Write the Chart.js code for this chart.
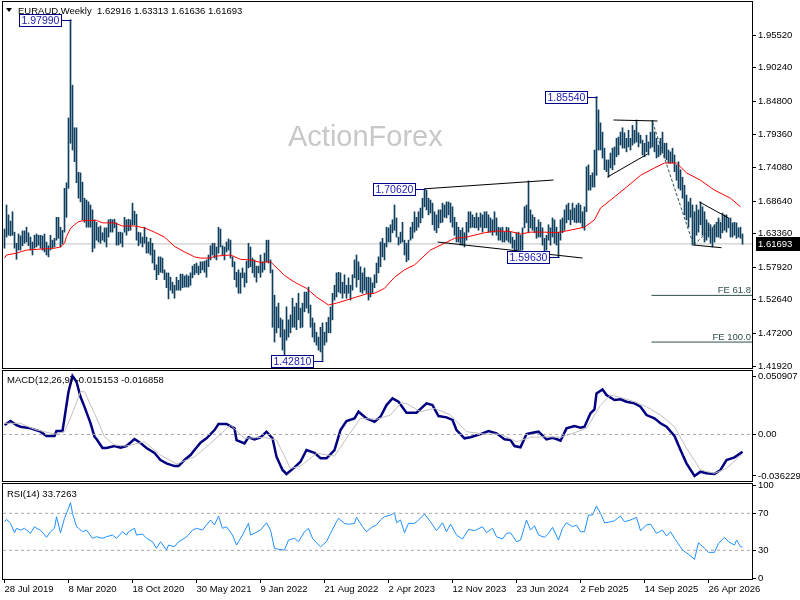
<!DOCTYPE html>
<html>
<head>
<meta charset="utf-8">
<title>EURAUD Weekly</title>
<script src="https://cdn.jsdelivr.net/npm/chart.js@4.4.1/dist/chart.umd.min.js"></script>
<style>
  html, body { margin: 0; padding: 0; background: #fff; }
  #wrap { position: relative; width: 800px; height: 600px; overflow: hidden; }
  canvas { position: absolute; left: 0; }
  #priceChart { top: 0; }
  #macdChart { top: 370px; }
  #rsiChart { top: 482px; }
</style>
</head>
<body>
<div id="wrap">
  <canvas id="priceChart" width="800" height="370"></canvas>
  <canvas id="macdChart" width="800" height="112"></canvas>
  <canvas id="rsiChart" width="800" height="118"></canvas>
</div>
<script>
/* ---------------- data ---------------- */
const dateTicks = [0, 32, 64, 96, 128, 160, 192, 224, 256, 288, 320, 352];
const dateLabels = ['28 Jul 2019', '8 Mar 2020', '18 Oct 2020', '30 May 2021', '9 Jan 2022', '21 Aug 2022',
                    '2 Apr 2023', '12 Nov 2023', '23 Jun 2024', '2 Feb 2025', '14 Sep 2025', '26 Apr 2026'];

const priceTicks = [1.41920, 1.47200, 1.52640, 1.57920, 1.63360, 1.68640, 1.74080, 1.79360, 1.84800, 1.90240, 1.95520];
const macdTicks = [-0.036229, 0, 0.050907];
const rsiTicks = [0, 30, 70, 100];
const rsiLevels = [70, 30];

// last bar: open, high, low, close
const lastBar = [1.62916, 1.63313, 1.61636, 1.61693];

const barHigh = [
  1.641,1.680,1.664,1.654,1.669,1.636,1.618,1.633,1.630,1.638,
  1.638,1.644,1.635,1.628,1.620,1.631,1.633,1.631,1.631,1.630,
  1.633,1.620,1.614,1.631,1.623,1.626,1.660,1.660,1.644,1.639,
  1.707,1.716,1.821,1.9799,1.874,1.805,1.805,1.733,1.732,1.717,
  1.691,1.688,1.685,1.680,1.672,1.656,1.652,1.644,1.646,1.635,
  1.643,1.643,1.656,1.657,1.656,1.657,1.651,1.636,1.636,1.635,
  1.660,1.656,1.657,1.656,1.683,1.670,1.665,1.636,1.635,1.628,
  1.644,1.628,1.620,1.626,1.618,1.607,1.583,1.596,1.596,1.594,
  1.575,1.570,1.570,1.563,1.555,1.550,1.563,1.558,1.568,1.568,
  1.565,1.567,1.565,1.570,1.581,1.584,1.586,1.581,1.588,1.588,
  1.589,1.591,1.599,1.614,1.618,1.618,1.612,1.644,1.641,1.614,
  1.612,1.620,1.625,1.623,1.596,1.588,1.571,1.575,1.570,1.578,
  1.570,1.589,1.618,1.612,1.594,1.591,1.581,1.581,1.599,1.588,
  1.602,1.623,1.623,1.591,1.575,1.534,1.515,1.521,1.497,1.494,
  1.478,1.515,1.494,1.502,1.529,1.515,1.521,1.537,1.513,1.521,
  1.539,1.539,1.547,1.518,1.497,1.489,1.474,1.466,1.482,1.489,
  1.474,1.490,1.498,1.515,1.537,1.550,1.570,1.571,1.570,1.555,
  1.567,1.550,1.562,1.550,1.567,1.591,1.599,1.588,1.580,1.570,
  1.578,1.563,1.563,1.562,1.554,1.567,1.586,1.596,1.620,1.626,
  1.618,1.644,1.643,1.648,1.656,1.680,1.659,1.628,1.636,1.652,
  1.623,1.618,1.623,1.644,1.652,1.669,1.660,1.669,1.675,1.691,
  1.7062,1.704,1.691,1.688,1.683,1.669,1.664,1.672,1.672,1.683,
  1.680,1.685,1.685,1.683,1.677,1.660,1.652,1.644,1.639,1.643,
  1.635,1.652,1.669,1.669,1.664,1.660,1.667,1.660,1.667,1.664,
  1.669,1.669,1.664,1.659,1.656,1.669,1.659,1.644,1.643,1.644,
  1.636,1.644,1.643,1.636,1.628,1.623,1.635,1.636,1.631,1.643,
  1.677,1.680,1.719,1.672,1.664,1.660,1.644,1.656,1.652,1.643,
  1.626,1.631,1.648,1.643,1.659,1.656,1.644,1.636,1.656,1.659,
  1.672,1.680,1.683,1.672,1.683,1.675,1.680,1.683,1.680,1.669,
  1.677,1.742,1.745,1.728,1.732,1.769,1.8554,1.834,1.813,1.798,
  1.772,1.753,1.753,1.764,1.772,1.774,1.788,1.790,1.798,1.805,
  1.797,1.788,1.801,1.788,1.809,1.801,1.8176,1.797,1.793,1.785,
  1.780,1.793,1.782,1.798,1.817,1.798,1.788,1.777,1.788,1.798,
  1.780,1.780,1.769,1.766,1.772,1.761,1.745,1.750,1.737,1.725,
  1.712,1.696,1.685,1.691,1.680,1.669,1.680,1.672,1.685,1.677,
  1.669,1.656,1.651,1.648,1.643,1.648,1.652,1.659,1.652,1.667,
  1.664,1.664,1.659,1.659,1.651,1.652,1.651,1.643,1.644,1.63313
];

const barLow = [
  1.610,1.628,1.631,1.630,1.631,1.610,1.592,1.607,1.607,1.614,
  1.618,1.620,1.614,1.607,1.599,1.610,1.612,1.615,1.610,1.607,
  1.604,1.599,1.596,1.607,1.610,1.612,1.623,1.626,1.612,1.617,
  1.636,1.660,1.707,1.780,1.769,1.750,1.716,1.691,1.685,1.656,
  1.652,1.644,1.644,1.644,1.604,1.610,1.623,1.620,1.618,1.623,
  1.620,1.612,1.628,1.636,1.636,1.643,1.615,1.615,1.618,1.612,
  1.636,1.631,1.638,1.639,1.648,1.648,1.623,1.614,1.618,1.612,
  1.618,1.602,1.602,1.599,1.586,1.575,1.559,1.567,1.571,1.570,
  1.559,1.546,1.528,1.542,1.537,1.529,1.542,1.542,1.542,1.546,
  1.547,1.547,1.547,1.550,1.562,1.567,1.570,1.567,1.570,1.575,
  1.571,1.563,1.580,1.591,1.599,1.594,1.591,1.602,1.612,1.599,
  1.591,1.604,1.607,1.594,1.580,1.559,1.547,1.537,1.537,1.562,
  1.547,1.554,1.578,1.580,1.570,1.563,1.555,1.570,1.563,1.571,
  1.575,1.588,1.586,1.570,1.482,1.458,1.473,1.481,1.466,1.445,
  1.436,1.461,1.466,1.473,1.482,1.482,1.478,1.494,1.481,1.482,
  1.507,1.513,1.505,1.482,1.466,1.458,1.453,1.445,1.442,1.4281,
  1.453,1.458,1.473,1.473,1.494,1.526,1.531,1.539,1.537,1.529,
  1.537,1.529,1.537,1.526,1.542,1.562,1.547,1.559,1.539,1.537,
  1.542,1.537,1.526,1.531,1.537,1.546,1.554,1.570,1.580,1.596,
  1.591,1.612,1.620,1.620,1.635,1.639,1.628,1.615,1.618,1.620,
  1.599,1.588,1.591,1.623,1.626,1.636,1.639,1.644,1.651,1.659,
  1.677,1.672,1.664,1.667,1.648,1.639,1.635,1.643,1.651,1.652,
  1.660,1.659,1.664,1.652,1.644,1.631,1.620,1.620,1.615,1.615,
  1.612,1.623,1.636,1.643,1.644,1.643,1.643,1.639,1.644,1.636,
  1.643,1.643,1.636,1.636,1.631,1.636,1.631,1.623,1.623,1.620,
  1.620,1.623,1.620,1.618,1.610,1.607,1.604,1.607,1.607,1.607,
  1.643,1.651,1.635,1.643,1.639,1.635,1.626,1.628,1.628,1.615,
  1.601,1.607,1.623,1.615,1.628,1.618,1.615,1.5963,1.623,1.635,
  1.639,1.651,1.656,1.648,1.656,1.652,1.651,1.652,1.651,1.643,
  1.639,1.669,1.704,1.704,1.709,1.709,1.728,1.769,1.769,1.756,
  1.737,1.734,1.725,1.740,1.737,1.745,1.758,1.761,1.777,1.772,
  1.772,1.766,1.774,1.769,1.777,1.780,1.782,1.774,1.780,1.761,
  1.758,1.766,1.761,1.772,1.774,1.766,1.756,1.758,1.761,1.764,
  1.756,1.753,1.748,1.748,1.748,1.734,1.720,1.707,1.704,1.691,
  1.664,1.656,1.644,1.660,1.615,1.615,1.631,1.636,1.648,1.631,
  1.620,1.623,1.628,1.618,1.612,1.620,1.628,1.628,1.626,1.635,
  1.639,1.636,1.643,1.628,1.628,1.631,1.626,1.628,1.626,1.61636
];

// red moving average
const maIdx = [0,1,6,11,20,25,28,30,31,33,35,37,40,46,49,55,59,65,70,75,80,85,90,95,98,103,105,113,118,123,
               128,133,140,145,151,156,162,166,173,181,185,190,195,200,205,213,220,225,231,240,246,253,258,263,270,276,281,290,295,298,
               305,311,318,325,330,336,341,348,355,363,368];
const maVal = [1.594,1.599,1.602,1.607,1.609,1.610,1.612,1.618,1.629,1.642,1.648,1.653,1.655,1.655,1.651,1.651,1.646,1.646,1.643,1.636,
               1.628,1.613,1.604,1.596,1.594,1.594,1.597,1.599,1.592,1.591,1.587,1.588,1.566,1.555,1.545,1.531,1.518,1.521,1.528,1.536,
               1.537,1.545,1.563,1.575,1.583,1.607,1.618,1.626,1.628,1.635,1.638,1.637,1.633,1.636,1.636,1.635,1.638,1.644,1.656,1.675,
               1.693,1.709,1.728,1.740,1.748,1.748,1.732,1.720,1.704,1.691,1.677];

// high / low tags
const tagIdx = [33, 159, 210, 277, 296];
const tagVal = [1.97990, 1.42810, 1.70620, 1.59630, 1.85540];

// hand drawn trend lines [bar, price]
const trendLines = [
  [[210, 1.7062], [274.5, 1.7204]],
  [[216.5, 1.6200], [289, 1.5941]],
  [[301.5, 1.7253], [321.5, 1.7625]],
  [[304.5, 1.8176], [326.5, 1.8160]],
  [[347.5, 1.6848], [362, 1.6589]],
  [[344.5, 1.6152], [358.5, 1.6108]]
];

// fibonacci expansion
const feIdx = [324, 344.5, 358];
const feVal = [1.8143, 1.6152, 1.6556];
const feStart = 323.5;
const feLevels = [1.5336, 1.4580];
const feNames = ['FE 61.8', 'FE 100.0'];

// MACD(12,26,9)
const macdIdx = [0,3,6,8,13,18,21,25,26,29,30,32,34,36,38,40,43,45,46,49,51,55,58,61,65,68,71,75,78,81,
                 85,87,90,93,95,98,101,105,107,111,115,116,120,122,125,128,131,134,136,139,141,145,148,151,155,158,161,165,168,171,
                 175,177,181,185,188,191,194,197,201,206,211,214,217,221,224,226,230,233,238,242,246,250,253,255,258,261,264,267,271,274,
                 276,278,281,285,288,290,293,295,296,299,301,305,308,311,315,318,321,325,328,331,335,338,341,345,348,351,355,358,361,365,369];
const macdVal = [0.0082,0.0117,0.0082,0.0067,0.0053,0.0024,-0.0014,-0.0014,0.0030,0.0030,
                 0.0143,0.0372,0.0509,0.0459,0.0328,0.0240,0.0099,-0.0020,-0.0040,-0.0118,
                 -0.0118,-0.0101,-0.0116,-0.0101,-0.0040,-0.0075,-0.0118,-0.0162,-0.0223,-0.0252,
                 -0.0276,-0.0276,-0.0223,-0.0180,-0.0136,-0.0072,-0.0034,0.0038,0.0091,0.0091,
                 0.0053,-0.0049,-0.0078,-0.0025,-0.0043,-0.0025,0.0024,-0.0034,-0.0194,-0.0310,
                 -0.0345,-0.0287,-0.0238,-0.0136,-0.0160,-0.0208,-0.0208,-0.0136,0.0038,0.0117,
                 0.0140,0.0198,0.0140,0.0111,0.0154,0.0256,0.0315,0.0285,0.0189,0.0189,
                 0.0271,0.0256,0.0160,0.0149,0.0126,0.0038,-0.0034,-0.0025,0.0003,0.0030,
                 0.0010,-0.0043,-0.0049,-0.0101,-0.0112,0.0003,0.0015,0.0024,-0.0043,-0.0029,
                 -0.0040,-0.0055,0.0053,0.0073,0.0058,0.0067,0.0184,0.0219,0.0358,0.0393,
                 0.0343,0.0300,0.0306,0.0285,0.0271,0.0241,0.0169,0.0140,0.0097,0.0067,
                 -0.0014,-0.0136,-0.0252,-0.0362,-0.0325,-0.0339,-0.0345,-0.0310,-0.0223,-0.0200,-0.015153];
const sigIdx = [0,8,15,25,30,34,38,40,45,50,55,61,70,78,86,95,103,113,120,130,
                136,143,148,156,165,171,178,186,193,198,201,208,215,223,231,240,248,256,263,271,
                278,285,291,298,303,308,315,321,328,335,341,348,355,361,369];
const sigVal = [0.0097,0.0097,0.0044,0.0003,0.0024,0.0187,0.0372,0.0372,0.0184,-0.0020,
                -0.0092,-0.0101,-0.0064,-0.0180,-0.0258,-0.0194,-0.0078,0.0082,-0.0034,-0.0025,
                -0.0049,-0.0296,-0.0276,-0.0165,-0.0188,-0.0034,0.0140,0.0132,0.0169,0.0271,
                0.0271,0.0198,0.0228,0.0169,0.0024,0.0003,0.0003,-0.0064,-0.0025,-0.0020,
                -0.0025,0.0015,0.0053,0.0256,0.0343,0.0323,0.0285,0.0241,0.0169,0.0067,
                -0.0121,-0.0310,-0.0339,-0.0296,-0.016858];

// RSI(14)
const rsiIdx = [0,1,3,5,6,8,10,11,13,15,16,18,21,23,25,26,28,30,32,33,
                34,36,37,39,41,44,46,49,51,54,56,59,61,62,65,66,69,71,74,76,
                78,81,82,85,87,90,92,94,96,99,101,103,105,107,109,111,114,116,119,122,
                123,125,128,131,133,135,137,140,142,145,147,150,152,154,156,158,161,163,166,167,
                170,172,175,176,179,181,184,186,188,190,193,195,196,198,200,202,205,207,210,213,
                216,219,221,223,226,229,232,235,239,241,244,246,249,251,253,256,258,261,263,265,
                267,270,272,274,277,279,281,284,286,288,290,292,294,296,298,300,302,305,308,310,
                313,316,318,321,323,326,329,331,333,335,339,342,345,347,350,352,355,357,360,362,
                365,366,368,369];
const rsiVal = [60.9,63.5,59.2,49.0,53.8,51.9,53.8,51.9,48.4,55.5,53.8,51.9,44.0,50.1,53.8,66.3,49.0,64.6,75.4,81.5,
                70.0,55.5,53.8,50.1,51.9,43.0,44.7,43.0,44.7,46.5,43.0,50.1,46.5,50.1,53.8,46.5,47.6,43.0,39.3,32.2,
                39.3,30.3,35.7,33.9,39.3,43.0,46.5,51.9,53.8,51.9,57.4,62.8,57.4,67.1,53.8,55.5,46.5,35.7,46.5,59.2,
                46.5,48.4,51.9,59.8,51.9,32.2,31.1,30.3,41.1,43.0,39.3,50.1,53.8,43.0,38.2,33.9,39.3,48.4,60.9,64.6,
                59.2,58.1,59.2,65.7,55.5,50.1,55.5,57.4,62.8,66.3,68.2,70.6,59.8,62.8,49.0,59.2,59.2,62.8,69.2,60.9,
                51.2,59.8,50.1,58.4,46.5,42.2,52.6,51.2,55.5,49.0,53.8,44.7,42.2,48.4,49.0,39.3,41.1,62.8,51.9,56.6,
                46.5,44.0,48.4,54.9,41.1,53.8,59.8,55.5,57.4,50.1,50.1,68.2,68.2,77.9,70.0,59.8,60.3,62.0,67.1,60.9,
                62.8,65.7,51.2,57.4,58.4,48.4,51.9,45.5,50.1,43.0,30.3,25.7,20.3,38.2,32.2,27.8,27.8,37.5,44.0,39.3,
                35.7,41.1,33.9,33.7263];

/* ---------------- shared look ---------------- */
const X_MIN = -0.75, X_MAX = 373.75;
const FONT = '"Liberation Sans", Arial, sans-serif';
const AXIS_W = 48;

Chart.defaults.font.family = FONT;
Chart.defaults.font.size = 9.5;
Chart.defaults.color = '#000';
Chart.defaults.animation = false;
Chart.defaults.plugins.legend.display = false;
Chart.defaults.plugins.tooltip.enabled = false;

function pts(xs, ys) {
    return xs.map((x, k) => ({ x: x, y: ys[k] }));
}

function flat(v, x0, x1) {
    return [{ x: x0, y: v }, { x: x1, y: v }];
}

function lineSet(data, color, width, extra) {
    return Object.assign({
        type: 'line', data: data, borderColor: color, borderWidth: width,
        pointRadius: 0, tension: 0, fill: false
    }, extra || {});
}

// stop Chart.js from shrinking the pane to make room for edge labels
function noEdgePad(s) {
    s.paddingTop = 0; s.paddingBottom = 0; s.paddingLeft = 0; s.paddingRight = 0;
}

function xAxis(show) {
    return {
        type: 'linear', min: X_MIN, max: X_MAX, offset: false, bounds: 'data', display: show,
        grid: { drawOnChartArea: false, drawTicks: true, tickLength: 4, color: '#000' },
        border: { display: false },
        afterBuildTicks: s => { s.ticks = dateTicks.map(v => ({ value: v })); },
        ticks: {
            autoSkip: false, maxRotation: 0, minRotation: 0, align: 'start', padding: 1,
            callback: (v, i) => dateLabels[i]
        },
        afterFit: s => { s.height = show ? 21 : 0; noEdgePad(s); }
    };
}

function yAxis(min, max, tickVals, fmt) {
    return {
        type: 'linear', position: 'right', min: min, max: max, bounds: 'data',
        grid: { drawOnChartArea: false, drawTicks: true, tickLength: 4, color: '#000' },
        border: { display: false },
        afterBuildTicks: s => { s.ticks = tickVals.map(v => ({ value: v })); },
        ticks: { padding: 2, autoSkip: false, callback: fmt },
        afterFit: s => { s.width = AXIS_W; noEdgePad(s); }
    };
}

// black frame round every pane
const paneFrame = {
    id: 'paneFrame',
    afterDraw(chart) {
        const { ctx, chartArea: a } = chart;
        ctx.save();
        ctx.strokeStyle = '#000';
        ctx.lineWidth = 1;
        ctx.strokeRect(a.left - 0.5, a.top - 0.5, a.right - a.left + 1, a.bottom - a.top + 1);
        ctx.restore();
    }
};

function paneTitle(text, baseline) {
    return {
        id: 'paneTitle',
        afterDraw(chart) {
            const ctx = chart.ctx;
            ctx.save();
            ctx.font = '9.5px ' + FONT;
            ctx.fillStyle = '#000';
            ctx.textAlign = 'left';
            ctx.textBaseline = 'alphabetic';
            ctx.fillText(text, 7, baseline);
            ctx.restore();
        }
    };
}

/* ---------------- price pane ---------------- */
const priceOverlay = {
    id: 'priceOverlay',
    beforeDatasetsDraw(chart) {
        const ctx = chart.ctx;
        ctx.save();
        ctx.font = '29px ' + FONT;
        ctx.fillStyle = '#c8c8c8';
        ctx.textBaseline = 'alphabetic';
        ctx.fillText('ActionForex', 288, 146);
        ctx.restore();
    },
    afterDraw(chart) {
        const { ctx, chartArea: a, scales: { x, y } } = chart;
        ctx.save();

        // symbol line
        ctx.fillStyle = '#000';
        ctx.beginPath();
        ctx.moveTo(6, 8); ctx.lineTo(12, 8); ctx.lineTo(9, 12); ctx.closePath();
        ctx.fill();
        ctx.font = '9.5px ' + FONT;
        ctx.textAlign = 'left';
        ctx.textBaseline = 'alphabetic';
        ctx.fillText('EURAUD,Weekly  ' + lastBar.map(v => v.toFixed(5)).join(' '), 18, 14);

        // high / low tags
        ctx.font = '10.5px ' + FONT;
        ctx.textBaseline = 'middle';
        ctx.lineWidth = 1;
        tagIdx.forEach((i, k) => {
            const px = Math.round(x.getPixelForValue(i)) + 0.5;
            const py = Math.round(y.getPixelForValue(tagVal[k])) + 0.5;
            const txt = tagVal[k].toFixed(5);
            const w = Math.ceil(ctx.measureText(txt).width) + 4;
            const bx = px - 10 - w;
            ctx.fillStyle = '#fff';
            ctx.fillRect(bx, py - 6, w, 12);
            ctx.strokeStyle = '#00008b';
            ctx.strokeRect(bx, py - 6, w, 12);
            ctx.beginPath();
            ctx.moveTo(bx + w, py); ctx.lineTo(px, py);
            ctx.stroke();
            ctx.fillStyle = '#1a1ab4';
            ctx.fillText(txt, bx + 2, py + 0.5);
        });

        // FE level names
        ctx.font = '9.5px ' + FONT;
        ctx.fillStyle = '#2f4f4f';
        ctx.textAlign = 'right';
        ctx.textBaseline = 'alphabetic';
        feLevels.forEach((v, k) => {
            ctx.fillText(feNames[k], a.right - 1, y.getPixelForValue(v) - 2);
        });

        // current price box on the axis
        const cy = Math.round(y.getPixelForValue(lastBar[3]));
        ctx.fillStyle = '#000';
        ctx.fillRect(a.right + 4, cy - 7, 800 - a.right - 4, 14);
        ctx.fillStyle = '#fff';
        ctx.textAlign = 'left';
        ctx.textBaseline = 'middle';
        ctx.fillText(lastBar[3].toFixed(5), a.right + 6, cy + 0.5);
        ctx.restore();
    }
};

const priceSets = [
    { type: 'bar', data: barHigh.map((h, i) => ({ x: i, y: [barLow[i], h] })),
      backgroundColor: '#0f3f5e', borderWidth: 0, barThickness: 1, order: 5 },
    lineSet(flat(lastBar[3], X_MIN, X_MAX), '#c0c0c0', 1, { order: 9 }),
    lineSet(pts(maIdx, maVal), '#ff0000', 1, { order: 2 }),
    lineSet(pts(feIdx, feVal), '#2f4f4f', 1, { borderDash: [3, 2], order: 1 })
];
trendLines.forEach(seg => {
    priceSets.push(lineSet(seg.map(p => ({ x: p[0], y: p[1] })), '#000', 1, { order: 1 }));
});
feLevels.forEach(v => {
    priceSets.push(lineSet(flat(v, feStart, X_MAX), '#2f4f4f', 1, { order: 1 }));
});

new Chart(document.getElementById('priceChart'), {
    type: 'bar',
    data: { datasets: priceSets },
    options: {
        responsive: false,
        events: [],
        layout: { padding: { left: 3, top: 2, right: 0, bottom: 2 } },
        scales: {
            x: xAxis(false),
            y: yAxis(1.4160, 2.0087, priceTicks, v => v.toFixed(5))
        }
    },
    plugins: [priceOverlay, paneFrame]
});

/* ---------------- MACD pane ---------------- */
new Chart(document.getElementById('macdChart'), {
    type: 'line',
    data: {
        datasets: [
            lineSet(flat(0, X_MIN, X_MAX), '#a8a8a8', 1, { borderDash: [3, 3] }),
            lineSet(pts(sigIdx, sigVal), '#c0c0c0', 1),
            lineSet(pts(macdIdx, macdVal), '#000080', 2.5)
        ]
    },
    options: {
        responsive: false,
        events: [],
        layout: { padding: { left: 3, top: 1, right: 0, bottom: 1 } },
        scales: {
            x: xAxis(false),
            y: yAxis(-0.0406, 0.0553, macdTicks, v => (v === 0 ? '0.00' : v.toFixed(6)))
        }
    },
    plugins: [paneFrame,
              paneTitle('MACD(12,26,9) ' + macdVal[macdVal.length - 1].toFixed(6) + ' ' + sigVal[sigVal.length - 1].toFixed(6), 13)]
});

/* ---------------- RSI pane ---------------- */
const rsiSets = rsiLevels.map(v => lineSet(flat(v, X_MIN, X_MAX), '#a8a8a8', 1, { borderDash: [3, 3] }));
rsiSets.push(lineSet(pts(rsiIdx, rsiVal), '#1e90ff', 1));

new Chart(document.getElementById('rsiChart'), {
    type: 'line',
    data: { datasets: rsiSets },
    options: {
        responsive: false,
        events: [],
        layout: { padding: { left: 3, top: 2, right: 0, bottom: 0 } },
        scales: {
            x: xAxis(true),
            y: yAxis(-1.0, 101.7, rsiTicks, v => String(v))
        }
    },
    plugins: [paneFrame, paneTitle('RSI(14) ' + rsiVal[rsiVal.length - 1].toFixed(4), 15)]
});
</script>
</body>
</html>
